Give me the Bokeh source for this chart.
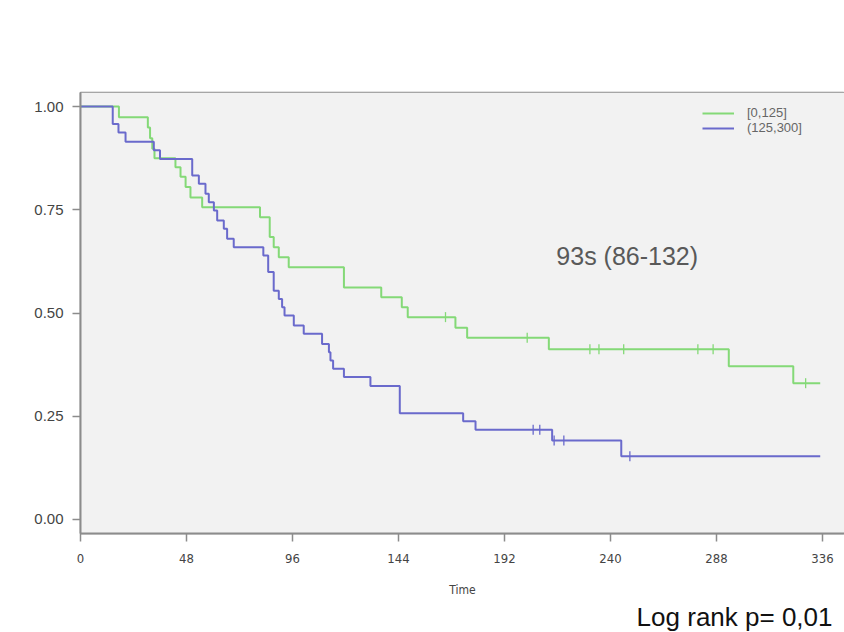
import numpy as np
from bokeh.plotting import figure
from bokeh.models import (Legend, LegendItem, FixedTicker, PrintfTickFormatter, Range1d,
                          BoxAnnotation, Label, Title)
from bokeh.embed import file_html
from bokeh.resources import INLINE

group_labels = ["[0,125]", "(125,300]"]

# Group [0,125] (green): event times and survival after each step
g_times = [0, 17.4, 30.5, 31.5, 32.5, 33.5, 43.0, 45.3, 47.6, 49.8, 55.1, 81.3, 85.7, 87.5,
           89.8, 94.3, 119.3, 136.2, 145.5, 148.2, 169.8, 175.1, 212.1, 293.6, 322.8]
g_surv = [1.0, 0.974, 0.949, 0.923, 0.898, 0.875, 0.853, 0.830, 0.805, 0.780, 0.756, 0.732, 0.684,
          0.659, 0.635, 0.611, 0.562, 0.538, 0.514, 0.490, 0.464, 0.440, 0.412, 0.371, 0.330]
g_censor = [165.3, 202.3, 230.7, 234.8, 246.0, 279.6, 286.5, 328.4]
g_end = 335.0

# Group (125,300] (blue)
b_times = [0, 14.6, 17.2, 20.4, 33.2, 36.0, 50.6, 53.6, 56.6, 58.1, 60.4, 61.9, 64.9, 66.4, 69.4,
           82.8, 85.0, 87.5, 89.8, 91.3, 92.4, 96.6, 101.1, 109.4, 112.5, 113.2, 114.4, 119.3,
           131.3, 144.6, 173.3, 178.9, 213.6, 244.9]
b_surv = [1.0, 0.958, 0.937, 0.915, 0.894, 0.873, 0.833, 0.813, 0.789, 0.768, 0.748, 0.724, 0.704,
          0.680, 0.659, 0.639, 0.599, 0.554, 0.534, 0.514, 0.494, 0.470, 0.450, 0.425, 0.405, 0.385,
          0.365, 0.345, 0.323, 0.257, 0.238, 0.217, 0.191, 0.153]
b_censor = [205.0, 208.0, 214.5, 218.9, 248.8]
b_end = 335.0

x_ticks = [0, 48, 96, 144, 192, 240, 288, 336]
y_ticks = [0.0, 0.25, 0.50, 0.75, 1.00]
median_text = "93s (86-132)"
logrank_text = "Log rank p= 0,01"

GREEN = "#84d977"
BLUE = "#6a6acc"
NARROW = "DejaVu Sans Condensed, Liberation Sans, sans-serif"

p = figure(width=844, height=632, output_backend="svg", toolbar_location=None,
           x_range=Range1d(0, 346), y_range=Range1d(-0.034, 1.034),
           min_border_left=80, min_border_right=0, min_border_top=92, min_border_bottom=99)
p.background_fill_color = "white"
p.border_fill_color = "white"
p.xgrid.visible = False
p.ygrid.visible = False
p.outline_line_color = "#8c8c8c"
p.outline_line_width = 1.5

# panel background
p.add_layout(BoxAnnotation(left=0, right=346, bottom=-0.034, top=1.034,
                           fill_color="#f2f2f2", fill_alpha=1, line_alpha=0, level="underlay"))


def step_xy(times, surv, end):
    return list(times) + [end], list(surv) + [surv[-1]]


def surv_at(times, surv, ts):
    idx = np.searchsorted(np.array(times), np.array(ts), side="right") - 1
    return [surv[i] for i in idx]


gx, gy = step_xy(g_times, g_surv, g_end)
bx, by = step_xy(b_times, b_surv, b_end)

r_g = p.step(gx, gy, mode="after", line_color=GREEN, line_width=2)
r_b = p.step(bx, by, mode="after", line_color=BLUE, line_width=2)

p.scatter(g_censor, surv_at(g_times, g_surv, g_censor), marker="dash", angle=np.pi / 2,
          size=10, line_color=GREEN, line_width=1.3)
p.scatter(b_censor, surv_at(b_times, b_surv, b_censor), marker="dash", angle=np.pi / 2,
          size=10, line_color=BLUE, line_width=1.3)

# axes
for ax in (p.xaxis[0], p.yaxis[0]):
    ax.axis_line_color = "#8c8c8c"
    ax.axis_line_width = 2
    ax.major_tick_line_color = "#8c8c8c"
    ax.major_tick_line_width = 1.5
    ax.major_tick_out = 8
    ax.major_tick_in = 0
    ax.minor_tick_line_color = None
    ax.major_label_text_color = "#444444"

p.xaxis.ticker = FixedTicker(ticks=x_ticks)
p.yaxis.ticker = FixedTicker(ticks=y_ticks)
p.yaxis.formatter = PrintfTickFormatter(format="%.2f")
p.yaxis.major_label_text_font = "Liberation Sans"
p.yaxis.major_label_text_font_size = "15px"
p.yaxis.major_label_standoff = 9
p.xaxis.major_label_text_font = NARROW
p.xaxis.major_label_text_font_size = "13px"
p.xaxis.major_label_standoff = 12
p.xaxis.axis_label = "Time"
p.xaxis.axis_label_text_font = NARROW
p.xaxis.axis_label_text_font_style = "normal"
p.xaxis.axis_label_text_font_size = "12px"
p.xaxis.axis_label_text_color = "#444444"
p.xaxis.axis_label_standoff = 17

legend = Legend(items=[LegendItem(label=group_labels[0], renderers=[r_g]),
                       LegendItem(label=group_labels[1], renderers=[r_b])],
                location=(622, 398))
legend.background_fill_alpha = 0
legend.border_line_alpha = 0
legend.padding = 0
legend.margin = 0
legend.spacing = 0
legend.glyph_width = 32
legend.glyph_height = 14
legend.label_height = 14
legend.label_standoff = 13
legend.label_text_font = "Liberation Sans"
legend.label_text_font_size = "13px"
legend.label_text_color = "#666666"
p.add_layout(legend)

p.add_layout(Label(x=215.5, y=0.637, text=median_text, text_baseline="middle",
                   text_font="Liberation Sans", text_font_size="25px", text_color="#595959"))

p.add_layout(Title(text=logrank_text, align="right", offset=12, standoff=0,
                   text_font="Liberation Sans", text_font_size="26px",
                   text_font_style="normal", text_color="#111111"), "below")

open("out.html", "w").write(file_html(p, INLINE))
